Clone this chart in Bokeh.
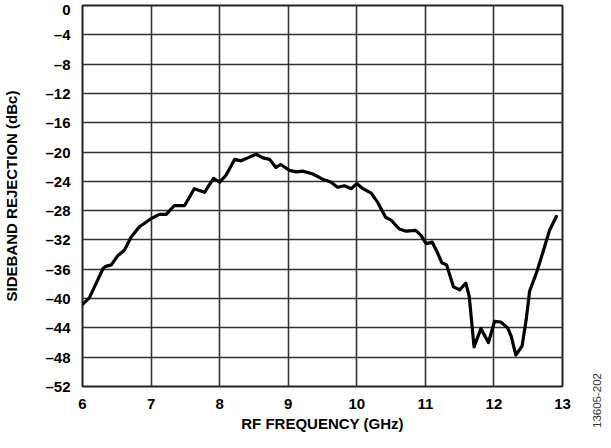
import math
from bokeh.plotting import figure
from bokeh.models import Range1d, FixedTicker, Label
from bokeh.embed import file_html
from bokeh.resources import INLINE

freq_ghz = [6.0, 6.1, 6.2, 6.3, 6.34, 6.42, 6.51, 6.61, 6.71, 6.83,
            7.0, 7.12, 7.22, 7.34, 7.49, 7.63, 7.78, 7.91, 8.0, 8.09,
            8.22, 8.31, 8.41, 8.53, 8.63, 8.73, 8.82, 8.89, 9.02, 9.12,
            9.21, 9.36, 9.5, 9.62, 9.72, 9.82, 9.92, 10.0, 10.09, 10.21,
            10.3, 10.42, 10.5, 10.62, 10.72, 10.86, 10.94, 11.01, 11.1, 11.16,
            11.24, 11.31, 11.41, 11.5, 11.59, 11.64, 11.71, 11.81, 11.92, 12.01,
            12.1, 12.2, 12.25, 12.32, 12.41, 12.47, 12.52, 12.62, 12.71, 12.81,
            12.91]
rejection_dbc = [-40.8, -39.9, -37.9, -35.9, -35.6, -35.4, -34.2, -33.4, -31.6, -30.2,
                 -29.1, -28.5, -28.5, -27.3, -27.3, -25.0, -25.5, -23.6, -24.1, -23.2,
                 -21.0, -21.2, -20.8, -20.3, -20.8, -21.0, -22.1, -21.7, -22.5, -22.7,
                 -22.6, -23.0, -23.7, -24.1, -24.8, -24.6, -25.0, -24.3, -25.0, -25.6,
                 -26.8, -28.9, -29.3, -30.5, -30.8, -30.7, -31.4, -32.5, -32.3, -33.4,
                 -35.1, -35.4, -38.4, -38.8, -37.9, -39.7, -46.6, -44.1, -46.0, -43.1,
                 -43.2, -44.0, -45.1, -47.7, -46.5, -42.9, -39.0, -36.5, -33.8, -30.7,
                 -28.8]

x_ticks = [6, 7, 8, 9, 10, 11, 12, 13]
y_ticks = [0, -4, -8, -12, -16, -20, -24, -28, -32, -36, -40, -44, -48, -52]
y_tick_labels = {t: ("0" if t == 0 else "\u2013" + str(-t)) for t in y_ticks}

FONT = "Liberation Sans"

p = figure(frame_width=480, frame_height=381, output_backend="svg", toolbar_location=None,
           x_range=Range1d(6, 13), y_range=Range1d(-52, 0),
           min_border_left=75, min_border_right=40, min_border_top=5, min_border_bottom=46)

p.outline_line_color = "#222222"
p.outline_line_width = 2

for ax in (p.xaxis[0], p.yaxis[0]):
    ax.axis_line_color = None
    ax.major_tick_line_color = None
    ax.minor_tick_line_color = None
    ax.major_label_text_font = FONT
    ax.major_label_text_font_style = "bold"
    ax.major_label_text_font_size = "15px"
    ax.major_label_text_color = "black"
    ax.axis_label_text_font = FONT
    ax.axis_label_text_font_style = "bold"
    ax.axis_label_text_font_size = "15px"
    ax.axis_label_text_color = "black"

p.xaxis.ticker = FixedTicker(ticks=x_ticks)
p.yaxis.ticker = FixedTicker(ticks=y_ticks)
p.yaxis.major_label_overrides = y_tick_labels
p.xaxis.axis_label = "RF FREQUENCY (GHz)"
p.yaxis.axis_label = "SIDEBAND REJECTION (dBc)"
p.xaxis.major_label_standoff = 6
p.xaxis.axis_label_standoff = 3
p.yaxis.major_label_standoff = 6
p.yaxis.axis_label_standoff = 22

p.xgrid.grid_line_color = "#333333"
p.ygrid.grid_line_color = "#333333"
p.xgrid.grid_line_width = 1.6
p.ygrid.grid_line_width = 1.6

p.line(freq_ghz, rejection_dbc, line_color="black", line_width=3.2, line_join="round", line_cap="round")

p.add_layout(Label(x=34, y=-14, x_units="screen", y_units="screen", text="13605-202", angle=math.pi / 2,
                   text_align="center", text_baseline="middle",
                   text_font=FONT, text_font_size="11.5px", text_color="#333333"), "right")

open("out.html", "w").write(file_html(p, INLINE))
